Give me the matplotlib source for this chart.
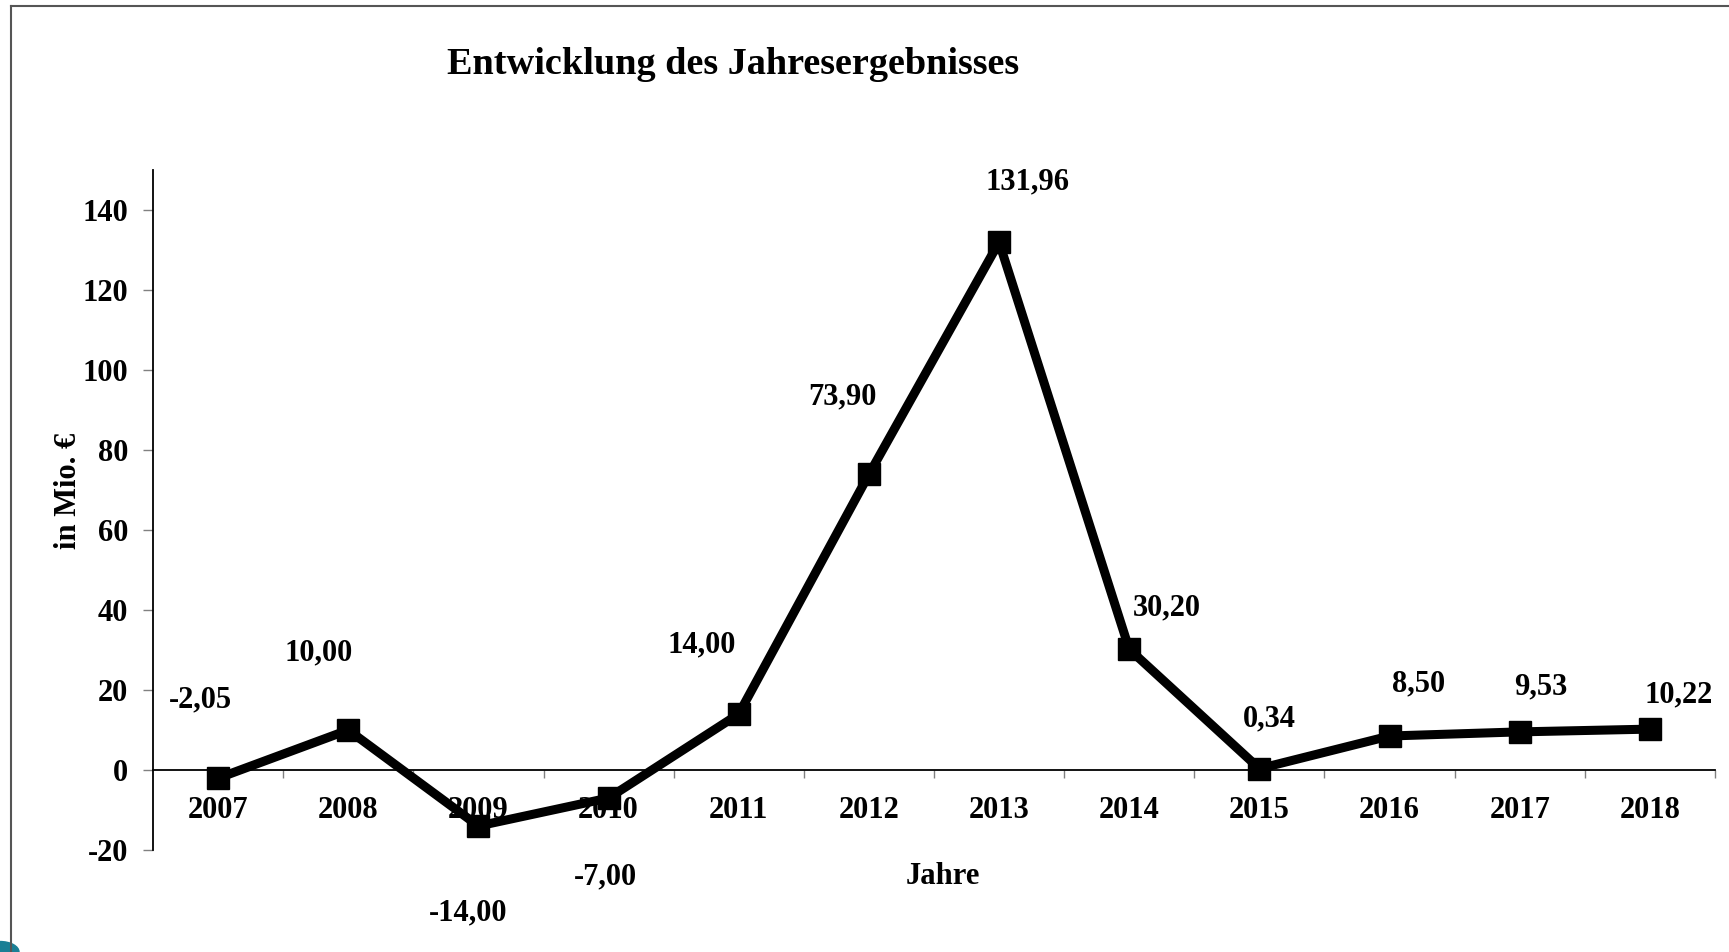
import matplotlib
matplotlib.use("Agg")
import matplotlib.pyplot as plt
from matplotlib.lines import Line2D
from matplotlib.patches import Circle
import numpy as np

years = ["2007", "2008", "2009", "2010", "2011", "2012",
         "2013", "2014", "2015", "2016", "2017", "2018"]
values = [-2.05, 10.00, -14.00, -7.00, 14.00, 73.90,
          131.96, 30.20, 0.34, 8.50, 9.53, 10.22]
value_labels = ["-2,05", "10,00", "-14,00", "-7,00", "14,00", "73,90",
                "131,96", "30,20", "0,34", "8,50", "9,53", "10,22"]
y_ticks = [-20, 0, 20, 40, 60, 80, 100, 120, 140]

# label offsets in pixels (dx, dy) relative to each point
label_offsets = [(-18, 78), (-30, 77), (-10, -87), (-3, -79), (-37, 69), (-26, 77),
                 (28, 60), (38, 41), (10, 50), (29, 52), (21, 45), (29, 34)]

plt.rcParams['font.family'] = ['Liberation Serif', 'DejaVu Serif']
plt.rcParams['font.weight'] = 'bold'

fig = plt.figure(figsize=(17.29, 9.52), dpi=100)
ax = fig.add_axes([153 / 1729, (952 - 850) / 952, (1715 - 153) / 1729, (850 - 170) / 952])

x = np.arange(len(years))
ax.plot(x, values, color="black", linewidth=6.5, marker="s", markersize=16,
        markerfacecolor="black", markeredgecolor="black", solid_joinstyle="miter")

for xi, v, lab, (dx, dy) in zip(x, values, value_labels, label_offsets):
    ax.annotate(lab, (xi, v), xytext=(dx, dy), textcoords="offset pixels",
                ha="center", va="center", fontsize=22, fontweight="bold")

ax.set_xlim(-0.5, len(years) - 0.5)
ax.set_ylim(-20, 150)

ax.spines["top"].set_visible(False)
ax.spines["right"].set_visible(False)
ax.spines["bottom"].set_position(("data", 0))
ax.spines["left"].set_bounds(-20, 150)
ax.spines["left"].set_linewidth(1.3)
ax.spines["bottom"].set_linewidth(1.3)

ax.set_yticks(y_ticks)
ax.set_yticklabels([str(t) for t in y_ticks], fontsize=22, fontweight="bold")
ax.tick_params(axis="y", direction="out", length=7, width=1, color="gray", pad=11)

ax.set_xticks(x)
ax.set_xticklabels(years, fontsize=22, fontweight="bold")
ax.tick_params(axis="x", which="major", length=0, pad=19)
ax.set_xticks(np.arange(0.5, len(years), 1.0), minor=True)
ax.tick_params(axis="x", which="minor", direction="out", length=6, width=1, color="gray")

fig.text(69 / 1729, 1 - 491 / 952, "in Mio. €", rotation=90, ha="center", va="center",
         fontsize=22, fontweight="bold")
fig.text(943 / 1729, 1 - 877 / 952, "Jahre", ha="center", va="center",
         fontsize=22, fontweight="bold")
fig.text(733 / 1729, 1 - 64 / 952, "Entwicklung des Jahresergebnisses",
         ha="center", va="center", fontsize=27.5, fontweight="bold")

# slide frame
fig.add_artist(Line2D([11 / 1729, 1], [1 - 6 / 952, 1 - 6 / 952],
                      transform=fig.transFigure, color="#555555", linewidth=1.5))
fig.add_artist(Line2D([11 / 1729, 11 / 1729], [0, 1 - 6 / 952],
                      transform=fig.transFigure, color="#555555", linewidth=1.5))
fig.add_artist(Circle((0, 0), 0.011, transform=fig.transFigure,
                      color="#1a7f95", zorder=0))

fig.savefig("out.png", dpi=100)
